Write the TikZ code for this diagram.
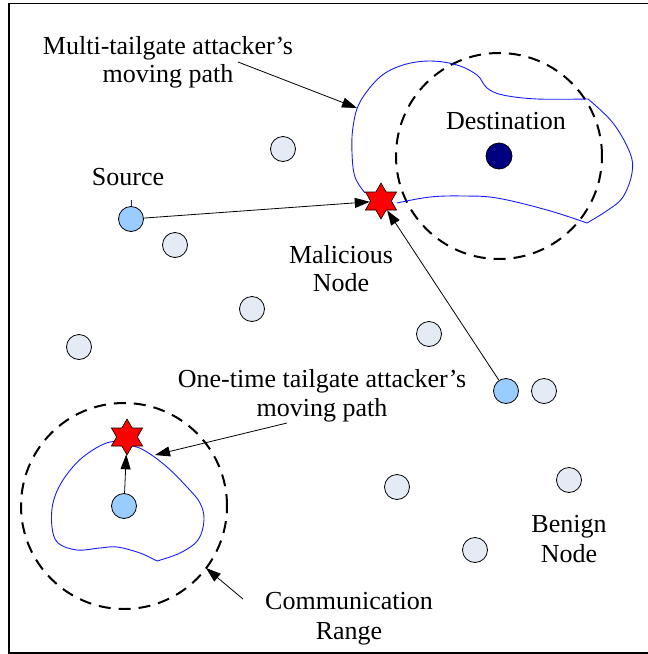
\documentclass[tikz,border=0pt]{standalone}
\usepackage{fontspec}
\setmainfont{Liberation Serif}
\usetikzlibrary{arrows.meta,shapes.geometric}
\definecolor{benignfill}{HTML}{E4EBF5}
\definecolor{activefill}{HTML}{99CCFF}
\definecolor{destfill}{HTML}{000080}
\definecolor{pathblue}{HTML}{1A1AFF}
\begin{document}
\begin{tikzpicture}[x=1pt,y=-1pt,
  lbl/.style={font=\fontsize{26}{28}\selectfont,inner sep=0pt,align=center},
  benign/.style={circle,draw=black,line width=0.8pt,fill=benignfill,minimum size=25pt,inner sep=0pt},
  active/.style={benign,fill=activefill},
  dest/.style={benign,fill=destfill,minimum size=26pt},
  attacker/.style={star,star points=6,star point ratio=1.732,minimum size=36pt,inner sep=0pt,draw=black,line width=0.6pt,fill=red},
  commrange/.style={circle,draw=black,line width=2pt,dash pattern=on 12pt off 8pt,minimum size=206pt,inner sep=0pt},
  conn/.style={draw=black,line width=0.8pt,-{Triangle[length=15pt,width=10pt]}},
  route/.style={draw=pathblue,line width=0.9pt}
]
\useasboundingbox (0,0) rectangle (648,654);

% frame (open on the right)
\draw[line width=1.6pt] (648,3.5) -- (9,3.5) -- (9,653) -- (648,653);

% communication ranges
\node[commrange] (rangeDest) at (499,156) {};
\node[commrange] (rangeLow) at (124,506) {};

% multi-tailgate moving path
\draw[route] plot[smooth,tension=0.6] coordinates {(397,203) (430,197) (463,196) (497,198) (547,210) (587,223)};
\draw[route] plot[smooth,tension=0.6] coordinates {(587,223) (608,210) (623,197) (632,173) (630,153) (613,123) (588,99)};
\draw[route] plot[smooth,tension=0.6] coordinates {(588,99) (537,99) (503,95) (487,88) (477,75) (457,65) (430,61) (403,65) (380,77) (360,102) (353,127) (352,153) (355,177) (365,193)};

% one-time tailgate moving path
\draw[route] plot[smooth,tension=0.6] coordinates {(157,561) (140,553) (117,547) (100,548) (77,550) (58,543) (52,527) (53,503) (63,480) (83,457) (110,442) (133,446) (147,452) (167,467) (187,487) (200,503) (204,520) (198,540) (180,553) (157,561)};
\draw[route] (131,200) -- (131,207);

% benign nodes
\node[benign] (b1) at (283,149) {};
\node[benign] (b2) at (175,245) {};
\node[benign] (b3) at (252,309) {};
\node[benign] (b4) at (79,347) {};
\node[benign] (b5) at (429,334) {};
\node[benign] (b6) at (544,391) {};
\node[benign] (b7) at (569,480) {};
\node[benign] (b8) at (397,487) {};
\node[benign] (b9) at (475,550) {};

% source, relays and destination
\node[active] (src) at (131,219) {};
\node[active] (relay) at (506,391) {};
\node[active] (lowsrc) at (124,506) {};
\node[dest] (dst) at (499,156) {};

% attackers
\node[attacker] (mal) at (381,201) {};
\node[attacker] (lowmal) at (127,437) {};

% data forwarding to the attackers
\draw[conn] (src) -- (mal);
\draw[conn] (relay) -- (mal);
\draw[conn] (lowsrc) -- (lowmal);

% labels
\node[lbl] (multiLbl) at (168,62) {Multi-tailgate attacker's\\moving path};
\node[lbl,anchor=base] (destLbl) at (506,129) {Destination};
\node[lbl,anchor=base] (srcLbl) at (128,185) {Source};
\node[lbl] (malLbl) at (341,268.5) {Malicious\\Node};
\node[lbl,font=\fontsize{26}{29}\selectfont] (oneLbl) at (322,396) {One-time tailgate attacker's\\moving path};
\node[lbl,font=\fontsize{26}{30}\selectfont] (benignLbl) at (569,539) {Benign\\Node};
\node[lbl,font=\fontsize{26}{30}\selectfont] (commLbl) at (349,619) {Communication\\Range};

% label pointers
\coordinate (multiTail) at (238,62);
\coordinate (multiTip) at (357,108);
\coordinate (oneTail) at (287,423);
\coordinate (oneTip) at (155,455);
\coordinate (commTail) at (243,599);
\coordinate (commTip) at (206,568);
\draw[conn] (multiTail) -- (multiTip);
\draw[conn] (oneTail) -- (oneTip);
\draw[conn] (commTail) -- (commTip);
\end{tikzpicture}
\end{document}
